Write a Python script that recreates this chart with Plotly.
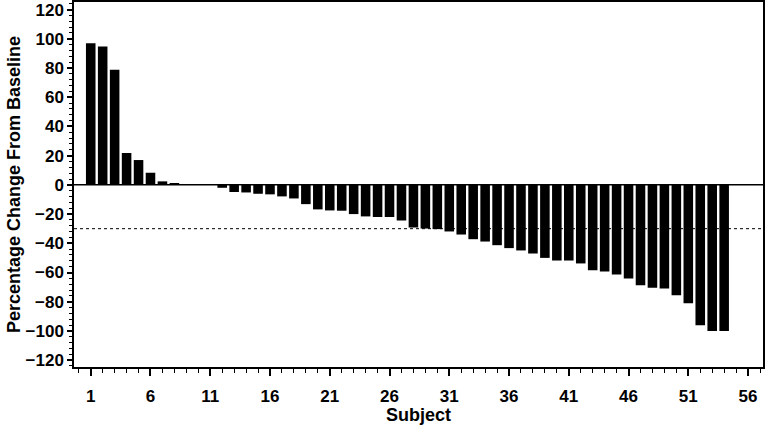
import plotly.graph_objects as go

subjects = list(range(1, 55))
pct_change = [
    97.0, 94.7, 78.9, 21.8, 17.0, 8.3, 2.4, 1.2, 0.0, 0.0,
    0.0, -2.0, -4.9, -5.2, -6.1, -6.5, -7.9, -9.3, -13.2, -16.8,
    -17.5, -17.7, -20.0, -21.6, -22.0, -22.0, -24.4, -29.2, -29.9, -30.3,
    -31.9, -34.0, -37.2, -38.8, -41.3, -43.3, -44.9, -47.0, -50.0, -51.8,
    -51.8, -53.8, -58.4, -59.3, -61.4, -64.1, -68.7, -70.5, -71.0, -75.6,
    -81.1, -96.1, -100.0, -100.0,
]
x_ticks = [1, 6, 11, 16, 21, 26, 31, 36, 41, 46, 51, 56]
y_ticks = [-120, -100, -80, -60, -40, -20, 0, 20, 40, 60, 80, 100, 120]
threshold = -30

fig = go.Figure()
fig.add_trace(go.Bar(
    x=subjects, y=pct_change, width=0.8,
    marker=dict(color="black", line=dict(width=0)),
    showlegend=False,
))

fig.add_hline(y=0, line=dict(color="black", width=1.5))
fig.add_hline(y=threshold, line=dict(color="black", width=1, dash="dot"))

font_family = "Liberation Sans, Arial, sans-serif"
fig.update_layout(
    width=767, height=425,
    margin=dict(l=74, r=4, t=2, b=58, autoexpand=False),
    plot_bgcolor="white", paper_bgcolor="white",
    font=dict(family=font_family, color="black"),
    bargap=0.2,
)
fig.update_xaxes(
    automargin=False,
    range=[-0.4, 57.25],
    tickmode="array", tickvals=x_ticks,
    ticks="outside", ticklen=7, tickwidth=1.5, tickcolor="black",
    minor=dict(dtick=1, tick0=1, ticks="outside", ticklen=4, tickwidth=1.2, tickcolor="black"),
    showline=True, linecolor="black", linewidth=1.5, mirror=True,
    showgrid=False, zeroline=False,
    ticklabelstandoff=6,
    tickfont=dict(size=17, family=font_family, weight="bold"),
    title=dict(text="<b>Subject</b>", font=dict(size=18), standoff=0),
)
fig.update_yaxes(
    automargin=False,
    range=[-124.7, 125.2],
    tickmode="array", tickvals=y_ticks,
    ticks="outside", ticklen=5, tickwidth=1.5, tickcolor="black",
    minor=dict(dtick=4, tick0=0, ticks="outside", ticklen=3, tickwidth=1.2, tickcolor="black"),
    showline=True, linecolor="black", linewidth=1.5, mirror=True,
    showgrid=False, zeroline=False,
    tickfont=dict(size=17, family=font_family, weight="bold"),
    title=dict(text="<b>Percentage Change From Baseline</b>", font=dict(size=18), standoff=0),
)

fig.write_html(
    "out.html",
    config={"displayModeBar": False},
    post_script="document.body.style.margin='0';document.body.style.overflow='hidden';",
)
